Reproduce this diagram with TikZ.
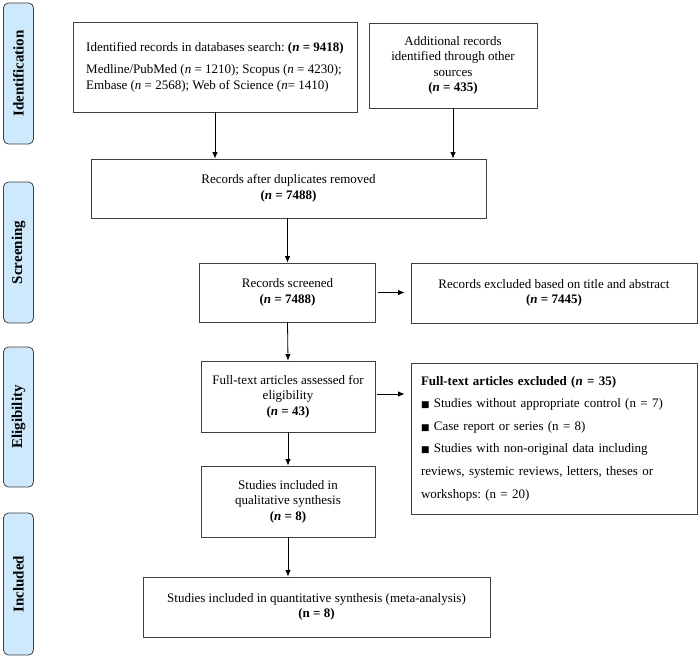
\documentclass[tikz,border=0pt]{standalone}
\usepackage{fontspec}
\setmainfont{Liberation Serif}
\newfontfamily\symfont{DejaVu Sans}
\usetikzlibrary{arrows.meta}
\definecolor{sidefill}{HTML}{CDE9FB}
\definecolor{edge}{HTML}{404040}
\newcommand{\sq}{{\symfont\fontsize{9}{9}\selectfont ■}}
\newcommand{\nn}{\textit{n}}
\tikzset{
  every node/.style={font=\fontsize{13}{15.5}\selectfont},
  sidelabel/.style={draw=edge, line width=0.8pt, fill=sidefill, rounded corners=5pt,
     minimum height=30pt, inner sep=0pt, rotate=90,
     font=\fontsize{15}{15}\selectfont\bfseries},
  box/.style={draw=edge, line width=0.8pt, inner sep=0pt, align=center},
  arr/.style={line width=0.8pt, draw=black, -{Latex[length=6.5pt,width=5.5pt]}},
}
\begin{document}
\frenchspacing
\begin{tikzpicture}[x=1pt,y=-1pt]
\useasboundingbox (0,0) rectangle (700,658);
% side labels
\node[sidelabel, minimum width=141pt] (sid) at (18.5,73.5) {Identification};
\node[sidelabel, minimum width=141pt] (sscr) at (18.5,252.5) {Screening};
\node[sidelabel, minimum width=140pt] (selig) at (18.5,417) {Eligibility};
\node[sidelabel, minimum width=142pt] (sinc) at (18.5,584) {Included};
% boxes
\node[box, minimum width=284pt, minimum height=90pt, align=left] (b1) at (215,67)
  {Identified records in databases search: \textbf{(\nn\ = 9418)}\\[7pt]
   Medline/PubMed (\nn\ = 1210); Scopus (\nn\ = 4230);\\
   Embase (\nn\ = 2568); Web of Science (\nn= 1410)};
\node[box, minimum width=168pt, minimum height=85pt] (b2) at (453,65.5)
  {Additional records\\identified through other\\sources\\\textbf{(\textit{n} = 435)}};
\node[box, minimum width=395pt, minimum height=59pt] (b3) at (288.5,188.5)
  {\raisebox{0pt}[0pt][0pt]{}Records after duplicates removed\\\textbf{(\textit{n} = 7488)}};
\node[box, minimum width=176pt, minimum height=59pt] (scr) at (287.5,292.5)
  {Records screened\\\textbf{(\textit{n} = 7488)}};
\node[box, minimum width=286pt, minimum height=60pt] (exc1) at (554,293)
  {Records excluded based on title and abstract\\\textbf{(\textit{n} = 7445)}};
\node[box, minimum width=174pt, minimum height=71pt] (full) at (288,396.5)
  {Full-text articles assessed for\\eligibility\\\textbf{(\textit{n} = 43)}};
\node[box, minimum width=286pt, minimum height=151pt, align=left,
      font=\fontsize{13}{22.6}\selectfont, text width=266pt] (exc2) at (554,438.5)
  {\textbf{Full-text articles excluded (\textit{n} = 35)}\\
   \sq\ Studies without appropriate control (n = 7)\\
   \sq\ Case report or series (n = 8)\\
   \sq\ Studies with non-original data including\\
   reviews, systemic reviews, letters, theses or\\
   workshops: (n = 20)};
\node[box, minimum width=174pt, minimum height=71pt] (qual) at (288,501.5)
  {Studies included in\\qualitative synthesis\\\textbf{(\textit{n} = 8)}};
\node[box, minimum width=347pt, minimum height=60pt] (fin) at (316.5,607)
  {Studies included in quantitative synthesis (meta-analysis)\\\textbf{(n = 8)}};
% connectors
\draw[arr] (b1.south) -- (b1.south |- b3.north);
\draw[arr] (b2.south) -- (b2.south |- b3.north);
\draw[arr] (b3.south -| scr.north) -- (scr.north);
\draw[arr, shorten <=2pt, shorten >=6pt] (scr.east) -- (scr.east -| exc1.west);
\draw[arr] (scr.south) -- (full.north);
\draw[arr, shorten <=2pt, shorten >=6pt] (full.east |- 0,394) -- (exc2.west |- 0,394);
\draw[arr] (full.south) -- (qual.north);
\draw[arr] (qual.south) -- (qual.south |- fin.north);
\end{tikzpicture}
\end{document}
